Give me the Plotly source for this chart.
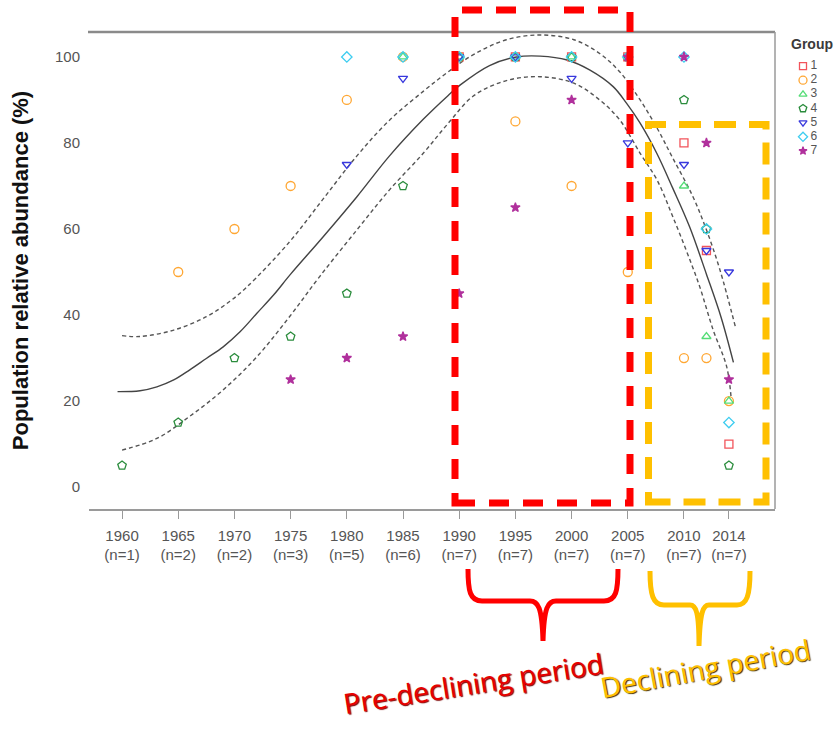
import plotly.graph_objects as go

# ---------------- data ----------------
tick_years = [1960, 1965, 1970, 1975, 1980, 1985, 1990, 1995, 2000, 2005, 2010, 2014]
tick_n = [1, 2, 2, 3, 5, 6, 7, 7, 7, 7, 7, 7]

groups = ["1", "2", "3", "4", "5", "6", "7"]

g1_years = [1990, 1995, 2000, 2005, 2010, 2012, 2014]
g1_vals = [100, 100, 100, 100, 80, 55, 10]

g2_years = [1965, 1970, 1975, 1980, 1985, 1990, 1995, 2000, 2005, 2010, 2012, 2014]
g2_vals = [50, 60, 70, 90, 100, 100, 85, 70, 50, 30, 30, 20]

g3_years = [1985, 1990, 1995, 2000, 2005, 2010, 2012, 2014]
g3_vals = [100, 100, 100, 100, 100, 70, 35, 20]

g4_years = [1960, 1965, 1970, 1975, 1980, 1985, 1990, 1995, 2000, 2005, 2010, 2012, 2014]
g4_vals = [5, 15, 30, 35, 45, 70, 100, 100, 100, 100, 90, 60, 5]

g5_years = [1980, 1985, 1990, 1995, 2000, 2005, 2010, 2012, 2014]
g5_vals = [75, 95, 100, 100, 95, 80, 75, 55, 50]

g6_years = [1980, 1985, 1990, 1995, 2000, 2005, 2010, 2012, 2014]
g6_vals = [100, 100, 100, 100, 100, 100, 100, 60, 15]

g7_years = [1975, 1980, 1985, 1990, 1995, 2000, 2005, 2010, 2012, 2014]
g7_vals = [25, 30, 35, 45, 65, 90, 100, 100, 80, 25]

fit_years = [1959.6, 1961.6, 1963.1, 1964.6, 1966.0, 1967.5, 1969.0, 1970.5, 1972.0, 1973.5,
             1975.0, 1977.9, 1980.9, 1983.8, 1986.8, 1989.0, 1990.1, 1992.7, 1995.1, 1997.2,
             1999.6, 2001.6, 2003.7, 2004.9, 2006.1, 2007.6, 2009.0, 2010.5, 2012.0, 2013.3, 2014.4]
fit_vals = [22.2, 22.4, 23.3, 24.9, 27.2, 29.9, 32.6, 36.1, 40.4, 44.7,
            49.5, 58.2, 67.5, 77.0, 85.5, 91.0, 93.5, 98.0, 100.0, 100.2,
            99.3, 97.0, 93.1, 89.2, 84.6, 77.5, 69.5, 60.5, 49.5, 39.5, 29.0]

upper_years = [1960.0, 1961.6, 1964.6, 1967.5, 1969.6, 1971.1, 1974.9, 1977.9, 1980.9, 1983.8,
               1986.8, 1989.0, 1991.3, 1994.2, 1997.2, 2000.2, 2002.5, 2004.3, 2006.1, 2007.6,
               2009.0, 2010.8, 2012.0, 2013.2, 2014.6]
upper_vals = [35.2, 35.0, 36.5, 39.6, 43.2, 46.5, 57.0, 67.0, 77.0, 85.3,
              92.0, 96.5, 100.6, 104.0, 105.1, 104.0, 100.8, 96.5, 90.0, 83.5,
              76.5, 67.5, 59.8, 50.5, 37.0]

lower_years = [1960.0, 1963.1, 1966.0, 1969.0, 1972.0, 1974.9, 1977.6, 1980.9, 1983.8, 1986.8,
               1989.0, 1991.3, 1994.2, 1997.2, 2000.2, 2002.5, 2004.3, 2006.1, 2007.6, 2009.0,
               2010.5, 2011.4, 2012.6, 2013.8, 2014.2]
lower_vals = [8.6, 11.3, 16.4, 22.6, 30.3, 39.6, 49.0, 59.8, 69.1, 77.6,
              84.5, 91.0, 94.5, 95.4, 93.9, 90.0, 85.3, 77.6, 71.4, 62.9,
              53.0, 46.6, 36.5, 28.0, 20.6]

# ---------------- styles ----------------
series = [
    (g1_years, g1_vals, "square-open", "#F2545B", 8),
    (g2_years, g2_vals, "circle-open", "#FFA733", 9),
    (g3_years, g3_vals, "triangle-up-open", "#55DD77", 8),
    (g4_years, g4_vals, "pentagon-open", "#2A8C3C", 9),
    (g5_years, g5_vals, "triangle-down-open", "#3838DD", 8),
    (g6_years, g6_vals, "diamond-open", "#3ECDF0", 8),
    (g7_years, g7_vals, "star", "#B0309C", 7),
]

W, H = 838, 732
ML, MR, MT, MB = 89, 8, 32, 223
PW, PH = W - ML - MR, H - MT - MB


def px(x):
    return (x - ML) / PW


def py(y):
    return (H - MB - y) / PH


def path(cmds):
    out = []
    for c in cmds:
        if isinstance(c, str):
            out.append(c)
        else:
            out.append(f"{px(c[0]):.5f},{py(c[1]):.5f}")
    return " ".join(out)


main_right = px(775)
FONT = "Liberation Sans, Arial, sans-serif"

fig = go.Figure()

# fitted curve and confidence band
fig.add_trace(go.Scatter(x=upper_years, y=upper_vals, mode="lines", line_shape="spline",
                         line=dict(color="#555555", width=1.4, dash="4px,3px"),
                         showlegend=False, hoverinfo="skip"))
fig.add_trace(go.Scatter(x=lower_years, y=lower_vals, mode="lines", line_shape="spline",
                         line=dict(color="#555555", width=1.4, dash="4px,3px"),
                         showlegend=False, hoverinfo="skip"))
fig.add_trace(go.Scatter(x=fit_years, y=fit_vals, mode="lines", line_shape="spline",
                         line=dict(color="#444444", width=1.4),
                         showlegend=False, hoverinfo="skip"))

for (xs, ys, sym, col, sz), g in zip(series, groups):
    fig.add_trace(go.Scatter(
        x=xs, y=ys, mode="markers", name=g,
        marker=dict(symbol=sym, size=sz, color=col, line=dict(color=col, width=1.3)),
        showlegend=False))

# manual legend on an inset axis
for (xs, ys, sym, col, sz), g in zip(series, groups):
    fig.add_trace(go.Scatter(
        x=[0], y=[int(g)], mode="markers",
        marker=dict(symbol=sym, size=sz - 1, color=col, line=dict(color=col, width=1.3)),
        xaxis="x2", yaxis="y2", showlegend=False, hoverinfo="skip", cliponaxis=False))
fig.add_trace(go.Scatter(
    x=[0.75] * len(groups), y=[int(g) for g in groups], mode="text", text=groups,
    textposition="middle right",
    textfont=dict(family=FONT, size=12, color="#555555"),
    xaxis="x2", yaxis="y2", showlegend=False, hoverinfo="skip", cliponaxis=False))

tick_text = [f"{y}<br>(n={n})" for y, n in zip(tick_years, tick_n)]

shapes = [
    # frame: top and right
    dict(type="line", xref="paper", yref="paper", x0=px(88), x1=main_right, y0=1, y1=1,
         line=dict(color="#8a8a8a", width=2.5)),
    dict(type="line", xref="paper", yref="paper", x0=main_right, x1=main_right, y0=0, y1=1,
         line=dict(color="#9a9a9a", width=1.5)),
    # red dashed box
    dict(type="rect", xref="paper", yref="paper", x0=px(455), x1=px(630), y0=py(503), y1=py(10),
         line=dict(color="#FF0000", width=7, dash="20px,14px"), layer="above"),
    # yellow dashed box
    dict(type="rect", xref="paper", yref="paper", x0=px(648.5), x1=px(766), y0=py(502), y1=py(124.5),
         line=dict(color="#FFC000", width=7, dash="22px,13px"), layer="above"),
    # red brace
    dict(type="path", xref="paper", yref="paper", line=dict(color="#FF0000", width=5),
         path=path(["M", (468, 569), "C", (468, 591), (470, 601), (482, 601),
                    "L", (530, 601), "C", (538, 601), (542, 607), (543, 641),
                    "C", (544, 607), (548, 601), (556, 601),
                    "L", (604, 601), "C", (616, 601), (618, 591), (618, 569)])),
    # yellow brace
    dict(type="path", xref="paper", yref="paper", line=dict(color="#FFC000", width=5),
         path=path(["M", (650, 571), "C", (650, 595), (653, 605), (664, 605),
                    "L", (690, 605), "C", (696, 605), (699, 612), (699, 646),
                    "C", (700, 612), (703, 605), (709, 605),
                    "L", (737, 605), "C", (747, 605), (750, 595), (750, 571)])),
]

annotations = [
    dict(text="Group", xref="paper", yref="paper", x=px(812), y=py(44), showarrow=False,
         font=dict(family=FONT, size=14, color="#3a3a3a", weight="bold"),
         xanchor="center", yanchor="middle"),
    dict(text="Pre-declining period", xref="paper", yref="paper", x=px(473), y=py(683),
         showarrow=False, textangle=-9, xanchor="center", yanchor="middle",
         font=dict(family="Open Sans, Noto Sans, sans-serif", size=28, color="#E60000",
                   shadow="1px 1px 1px #7a0000")),
    dict(text="Declining period", xref="paper", yref="paper", x=px(705), y=py(668),
         showarrow=False, textangle=-10.5, xanchor="center", yanchor="middle",
         font=dict(family="Open Sans, Noto Sans, sans-serif", size=28, color="#FFC000",
                   shadow="1px 1px 1px #3a2c00")),
]

fig.update_layout(
    width=W, height=H,
    margin=dict(l=ML, r=MR, t=MT, b=MB, pad=0),
    paper_bgcolor="white", plot_bgcolor="white",
    showlegend=False,
    xaxis=dict(domain=[0, main_right], range=[1957.06, 2018.1],
               tickmode="array", tickvals=tick_years, ticktext=tick_text,
               showgrid=False, zeroline=False, showline=True, linecolor="#9a9a9a", linewidth=1.5,
               ticks="outside", ticklen=8, tickcolor="#9a9a9a", tickwidth=1,
               ticklabelstandoff=4,
               tickfont=dict(family=FONT, size=15, color="#555555")),
    yaxis=dict(domain=[0, 1], range=[-5.1, 105.8], tickvals=[0, 20, 40, 60, 80, 100],
               showgrid=False, zeroline=False, showline=False, ticks="",
               ticklabelstandoff=8,
               tickfont=dict(family=FONT, size=15, color="#555555"),
               title=dict(text="Population relative abundance (%)", standoff=20,
                          font=dict(family=FONT, size=22, color="#111111", weight="bold"))),
    xaxis2=dict(domain=[px(795), 1], range=[-0.8, 2.7], anchor="y2",
                visible=False, fixedrange=True),
    yaxis2=dict(domain=[py(158), py(59)], range=[7.5, 0.5], anchor="x2",
                visible=False, fixedrange=True),
    shapes=shapes,
    annotations=annotations,
)

fig.write_html("out.html", config={"displayModeBar": False},
               post_script="document.body.style.margin='0';")
